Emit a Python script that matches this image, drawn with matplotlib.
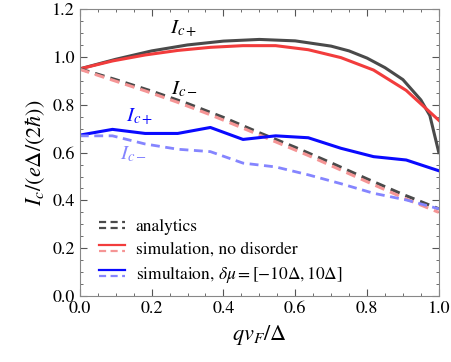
import numpy as np
import matplotlib
matplotlib.use("Agg")
import matplotlib.pyplot as plt
from matplotlib.legend_handler import HandlerBase
from matplotlib.lines import Line2D
from matplotlib.ticker import MultipleLocator

plt.rcParams['font.family'] = 'STIXGeneral'
plt.rcParams['mathtext.fontset'] = 'stix'

# analytics (smooth curves)
x_an = [0.0, 0.1, 0.2, 0.3, 0.4, 0.5, 0.6, 0.7, 0.75, 0.8, 0.85, 0.9, 0.95, 0.975, 1.0]
ic_plus_an = [0.95, 0.99, 1.025, 1.05, 1.066, 1.073, 1.067, 1.045, 1.025, 0.995, 0.955, 0.905, 0.82, 0.755, 0.60]
x_an_m = [0.0, 0.1, 0.2, 0.3, 0.4, 0.5, 0.6, 0.7, 0.8, 0.9, 1.0]
ic_minus_an = [0.95, 0.905, 0.857, 0.805, 0.747, 0.683, 0.622, 0.557, 0.49, 0.425, 0.365]

# simulation, 12 q points
x_sim = np.linspace(0, 1, 12)
ic_plus_clean = [0.95, 0.983, 1.008, 1.027, 1.04, 1.047, 1.047, 1.03, 0.997, 0.945, 0.86, 0.735]
ic_minus_clean = [0.948, 0.903, 0.858, 0.81, 0.758, 0.702, 0.645, 0.588, 0.527, 0.466, 0.406, 0.35]
ic_plus_dis = [0.673, 0.697, 0.68, 0.68, 0.705, 0.655, 0.67, 0.662, 0.618, 0.583, 0.569, 0.524]
ic_minus_dis = [0.67, 0.67, 0.636, 0.614, 0.604, 0.556, 0.54, 0.507, 0.47, 0.43, 0.402, 0.365]

GREY = '#4a4a4a'
RED = '#f23c3c'
LRED = '#f59595'
BLUE = '#0a0aff'
LBLUE = '#8585ff'
DASH = (0, (3.2, 2.0))


class TwoLines(HandlerBase):
    # solid-on-top / dashed-below legend sample
    def create_artists(self, legend, orig_handle, xdescent, ydescent,
                       width, height, fontsize, trans):
        out = []
        for src, yy in zip(orig_handle, (0.75 * height, 0.25 * height)):
            l = Line2D([-xdescent, width - xdescent], [yy - ydescent] * 2)
            l.update_from(src)
            l.set_linewidth(1.6)
            l.set_transform(trans)
            out.append(l)
        return out


fig = plt.figure(figsize=(4.51, 3.62), dpi=100)
ax = fig.add_axes([0.177, 0.182, 0.796, 0.793])

ax.plot(x_an, ic_plus_an, color=GREY, lw=2.2)
ax.plot(x_sim, ic_plus_clean, color=RED, lw=2.2)
ax.plot(x_an_m, ic_minus_an, color=GREY, lw=2.2, ls=DASH)
ax.plot(x_sim, ic_minus_clean, color=LRED, lw=2.2, ls=DASH)
ax.plot(x_sim, ic_plus_dis, color=BLUE, lw=2.2)
ax.plot(x_sim, ic_minus_dis, color=LBLUE, lw=2.0, ls=DASH)

ax.text(0.29, 1.117, r'$I_{c+}$', color='black', fontsize=15, ha='center', va='center')
ax.text(0.29, 0.866, r'$I_{c-}$', color='black', fontsize=15, ha='center', va='center')
ax.text(0.165, 0.75, r'$I_{c+}$', color=BLUE, fontsize=15, ha='center', va='center')
ax.text(0.148, 0.594, r'$I_{c-}$', color=LBLUE, fontsize=15, ha='center', va='center')

h1 = (Line2D([], [], color=GREY, ls=DASH), Line2D([], [], color=GREY, ls=DASH))
h2 = (Line2D([], [], color=RED), Line2D([], [], color=LRED, ls=DASH))
h3 = (Line2D([], [], color=BLUE), Line2D([], [], color=LBLUE, ls=DASH))
labels = ['analytics', 'simulation, no disorder',
          r'simultaion, $\delta\mu = [-10\Delta, 10\Delta]$']
ax.legend([h1, h2, h3], labels, handler_map={tuple: TwoLines()},
          loc='lower left', bbox_to_anchor=(0.01, -0.015), frameon=False,
          fontsize=12.5, handlelength=1.5, handletextpad=0.6, labelspacing=0.35)

ax.set_xlim(0, 1)
ax.set_ylim(0, 1.2)
ax.xaxis.set_major_locator(MultipleLocator(0.2))
ax.xaxis.set_minor_locator(MultipleLocator(0.05))
ax.yaxis.set_major_locator(MultipleLocator(0.2))
ax.yaxis.set_minor_locator(MultipleLocator(0.05))
ax.xaxis.set_major_formatter(plt.FormatStrFormatter('%.1f'))
ax.yaxis.set_major_formatter(plt.FormatStrFormatter('%.1f'))
ax.tick_params(which='both', direction='in', top=True, right=True, color='#555555',
               labelsize=13)
ax.tick_params(which='major', length=5)
ax.tick_params(which='minor', length=2.5)
for s in ax.spines.values():
    s.set_color('#888888')

ax.set_xlabel(r'$qv_F/\Delta$', fontsize=16, labelpad=4)
ax.set_ylabel(r'$I_c/(e\Delta/(2\hbar))$', fontsize=16, labelpad=4)

fig.savefig('out.png', dpi=100)
